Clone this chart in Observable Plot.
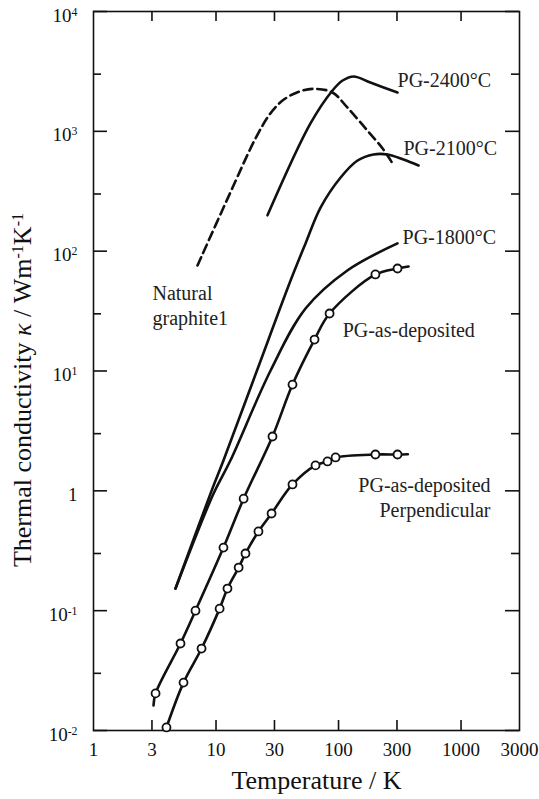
<!DOCTYPE html>
<html><head><meta charset="utf-8">
<script src="https://cdn.jsdelivr.net/npm/d3@7"></script>
<script src="https://cdn.jsdelivr.net/npm/@observablehq/plot@0.6"></script>
<style>body{margin:0;background:#fff}</style>
</head><body><div id="chart"></div>
<script>
// ---- axis ticks ----
const xTicks = [1, 3, 10, 30, 100, 300, 1000, 3000];
const xTickLabels = ["1", "3", "10", "30", "100", "300", "1000", "3000"];
const yMajor = [0.01, 0.1, 1, 10, 100, 1000, 10000];
const yMinor = [0.03, 0.3, 3, 30, 300, 3000];
const yTickLabels = ["10^-2", "10^-1", "1", "10^1", "10^2", "10^3", "10^4"];

// ---- PG-as-deposited (open circles) ----
const asDepT = [3.21, 5.13, 6.8, 11.5, 16.8, 28.9, 42.1, 63.7, 84.5, 200, 303];
const asDepK = [0.0204, 0.0532, 0.1, 0.336, 0.86, 2.84, 7.7, 18.3, 30.2, 63.9, 71.7];
const asDepLineT = [3.09, 3.21, 5.13, 6.8, 11.5, 16.8, 28.9, 42.1, 63.7, 84.5, 200, 303, 373];
const asDepLineK = [0.0162, 0.0204, 0.0532, 0.1, 0.336, 0.86, 2.84, 7.7, 18.3, 30.2, 63.9, 71.7, 74.5];

// ---- PG-as-deposited Perpendicular (open circles) ----
const perpT = [3.94, 5.43, 7.62, 10.7, 12.4, 15.3, 17.4, 22.2, 28.4, 42.1, 64.9, 81.3, 94.6, 200, 303];
const perpK = [0.0106, 0.0251, 0.0483, 0.104, 0.153, 0.229, 0.30, 0.458, 0.647, 1.13, 1.63, 1.76, 1.90, 2.01, 2.01];
const perpLineT = [3.94, 5.43, 7.62, 10.7, 12.4, 15.3, 17.4, 22.2, 28.4, 42.1, 64.9, 81.3, 94.6, 200, 303, 368];
const perpLineK = [0.0106, 0.0251, 0.0483, 0.104, 0.153, 0.229, 0.30, 0.458, 0.647, 1.13, 1.63, 1.76, 1.90, 2.01, 2.01, 2.02];

// ---- PG-1800°C ----
const pg1800T = [4.67, 9.55, 13.1, 27.9, 53.8, 118, 303];
const pg1800K = [0.153, 0.95, 1.79, 10.1, 33.2, 69, 116];

// ---- PG-2100°C ----
const pg2100T = [4.67, 9.19, 11.5, 21.6, 40.6, 53.8, 71.3, 104, 143, 193, 251, 339, 450];
const pg2100K = [0.153, 1.0, 1.79, 10.1, 56.9, 116, 231, 412, 571, 641, 641, 582, 519];

// ---- PG-2400°C ----
const pg2400T = [26.3, 59, 89.3, 108, 133, 182, 303];
const pg2400K = [199, 1163, 2193, 2655, 2870, 2552, 2109];

// ---- Natural graphite (dashed) ----
const natT = [7.06, 13.1, 21, 27.9, 36, 50, 66, 89.3, 118, 172, 229, 276];
const natK = [75.9, 309, 871, 1420, 1850, 2180, 2260, 2109, 1582, 1016, 719, 540];

// ---- curve labels (data coordinates) ----
const labelText = ["PG-2400°C", "PG-2100°C", "PG-1800°C", "PG-as-deposited", "Natural", "graphite1"];
const labelT = [303, 339, 333, 108, 3.03, 3.03];
const labelK = [2655, 719, 130, 21.8, 44.4, 27.4];
const perpLabelText = ["PG-as-deposited", "Perpendicular"];
const perpLabelT = [1741, 1741];
const perpLabelK = [1.11, 0.686];

const xTitle = "Temperature / K";
const yTitle = "Thermal conductivity κ / Wm^-1K^-1";

const pts = (T, K) => T.map((t, i) => ({T: t, k: K[i]}));

const W = 539, H = 799, mL = 93, mR = 20, mT = 11, mB = 69;
const fw = W - mL - mR, fh = H - mT - mB;
const ink = "#111";
const lineStyle = {x: "T", y: "k", stroke: ink, strokeWidth: 2.6, curve: "catmull-rom"};

const chart = Plot.plot({
  width: W, height: H,
  marginLeft: mL, marginRight: mR, marginTop: mT, marginBottom: mB,
  style: {fontFamily: "'Liberation Serif', 'Times New Roman', serif", background: "#fff", color: ink},
  x: {type: "log", domain: [1, 3000], axis: null},
  y: {type: "log", domain: [0.01, 10000], axis: null},
  marks: [
    Plot.frame({stroke: ink, strokeWidth: 1.6}),
    // inward ticks
    Plot.tickY(yMajor, {y: d => d, insetRight: fw - 14, stroke: ink, strokeWidth: 1.6}),
    Plot.tickY(yMinor, {y: d => d, insetRight: fw - 8, stroke: ink, strokeWidth: 1.6}),
    Plot.tickY(yMajor, {y: d => d, insetLeft: fw - 14, stroke: ink, strokeWidth: 1.6}),
    Plot.tickY(yMinor, {y: d => d, insetLeft: fw - 8, stroke: ink, strokeWidth: 1.6}),
    Plot.tickX(xTicks.slice(1, -1), {x: d => d, insetTop: fh - 10, stroke: ink, strokeWidth: 1.6}),
    Plot.tickX(xTicks.slice(1, -1), {x: d => d, insetBottom: fh - 10, stroke: ink, strokeWidth: 1.6}),
    // tick labels
    Plot.text(xTicks, {x: d => d, text: (d, i) => xTickLabels[i], frameAnchor: "bottom", dy: 25, fontSize: 19, fill: ink}),
    Plot.text(yMajor, {y: d => d, text: (d, i) => yTickLabels[i], frameAnchor: "left", textAnchor: "end", dx: -16, dy: 4, fontSize: 19, fill: ink}),
    // axis titles
    Plot.text([xTitle], {text: d => d, frameAnchor: "bottom", textAnchor: "middle", dx: 10, dy: 58, fontSize: 26, fill: ink}),
    Plot.text([yTitle], {text: d => d, frameAnchor: "left", textAnchor: "middle", dx: -71, dy: 19, rotate: -90, fontSize: 26, fill: ink}),
    // curves
    Plot.line(pts(natT, natK), {...lineStyle, strokeDasharray: "9,5"}),
    Plot.line(pts(pg2400T, pg2400K), lineStyle),
    Plot.line(pts(pg2100T, pg2100K), lineStyle),
    Plot.line(pts(pg1800T, pg1800K), lineStyle),
    Plot.line(pts(asDepLineT, asDepLineK), lineStyle),
    Plot.line(pts(perpLineT, perpLineK), lineStyle),
    Plot.dot(pts(asDepT, asDepK), {x: "T", y: "k", r: 4, fill: "#fff", stroke: ink, strokeWidth: 1.8}),
    Plot.dot(pts(perpT, perpK), {x: "T", y: "k", r: 4, fill: "#fff", stroke: ink, strokeWidth: 1.8}),
    // curve labels
    Plot.text(labelText, {x: (d, i) => labelT[i], y: (d, i) => labelK[i], text: d => d, textAnchor: "start", fontSize: 20, fill: "#222"}),
    Plot.text(perpLabelText, {x: (d, i) => perpLabelT[i], y: (d, i) => perpLabelK[i], text: d => d, textAnchor: "end", fontSize: 20, fill: "#222"})
  ]
});

// superscripts (e.g. 10^-1) and italic kappa
const NS = "http://www.w3.org/2000/svg";
chart.querySelectorAll("text").forEach(t => {
  const s = t.textContent;
  if (!s.includes("^") && !s.includes("κ")) return;
  if (t.children.length) return;
  t.textContent = "";
  const parts = s.split(/\^(-?\d+)/);
  parts.forEach((p, i) => {
    if (p === "") return;
    if (i % 2 === 1) {
      const ts = document.createElementNS(NS, "tspan");
      ts.setAttribute("baseline-shift", "super");
      ts.setAttribute("font-size", "62%");
      ts.textContent = p;
      t.appendChild(ts);
    } else {
      const segs = p.split(/(κ)/);
      segs.forEach(sg => {
        if (sg === "") return;
        if (sg === "κ") {
          const ts = document.createElementNS(NS, "tspan");
          ts.setAttribute("font-style", "italic");
          ts.textContent = sg;
          t.appendChild(ts);
        } else {
          t.appendChild(document.createTextNode(sg));
        }
      });
    }
  });
});

document.getElementById("chart").appendChild(chart);
</script>
</body></html>
